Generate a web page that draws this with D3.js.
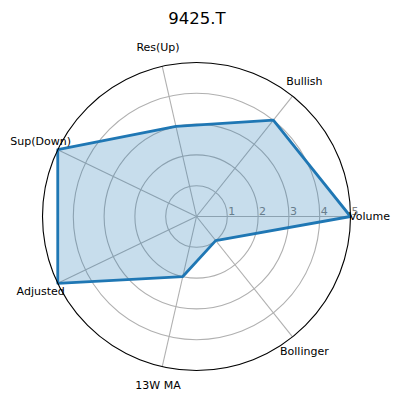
<!DOCTYPE html>
<html>
<head>
<meta charset="utf-8">
<script src="https://cdn.jsdelivr.net/npm/d3@7"></script>
<style>
  body { margin: 0; background: #fff; }
  text { font-family: "DejaVu Sans", sans-serif; }
</style>
</head>
<body>
<div id="chart"></div>
<script>
// radar chart for one ticker
const title = "9425.T";
const categories = ["Volume", "Bullish", "Res(Up)", "Sup(Down)", "Adjusted", "13W MA", "Bollinger"];
const values = [5, 4, 3, 5, 5, 2, 1];
const radialTicks = [1, 2, 3, 4, 5];

const width = 401, height = 401;
const cx = 196.5, cy = 216.5, R = 154;

const svg = d3.select("#chart").append("svg")
  .attr("width", width)
  .attr("height", height);

const g = svg.append("g").attr("transform", `translate(${cx},${cy})`);

// scales: angle goes counter-clockwise from east, like matplotlib polar
const angle = d3.scaleLinear()
  .domain([0, categories.length])
  .range([0, 2 * Math.PI]);
const r = d3.scaleLinear().domain([0, 5]).range([0, R]);

const px = (i, v) => r(v) * Math.cos(angle(i));
const py = (i, v) => -r(v) * Math.sin(angle(i));

// grid circles
g.selectAll(".ring")
  .data(radialTicks.slice(0, -1))
  .enter().append("circle")
  .attr("r", d => r(d))
  .attr("fill", "none")
  .attr("stroke", "#b0b0b0")
  .attr("stroke-width", 1.1);

// spokes
g.selectAll(".spoke")
  .data(categories)
  .enter().append("line")
  .attr("x1", 0).attr("y1", 0)
  .attr("x2", (d, i) => px(i, 5))
  .attr("y2", (d, i) => py(i, 5))
  .attr("stroke", "#b0b0b0")
  .attr("stroke-width", 1.1);

// radial tick labels
g.selectAll(".rtick")
  .data(radialTicks)
  .enter().append("text")
  .attr("x", d => r(d) + 1)
  .attr("y", -2)
  .attr("fill", "#808080")
  .attr("font-size", 11)
  .text(d => d);

// data polygon
const line = d3.line()
  .x(d => px(d.i, d.v))
  .y(d => py(d.i, d.v))
  .curve(d3.curveLinearClosed);
const pts = values.map((v, i) => ({ i, v }));

g.append("path")
  .datum(pts)
  .attr("d", line)
  .attr("fill", "#1f77b4")
  .attr("fill-opacity", 0.25)
  .attr("stroke", "#1f77b4")
  .attr("stroke-width", 2.8)
  .attr("stroke-linejoin", "round");

// outer spine
g.append("circle")
  .attr("r", R)
  .attr("fill", "none")
  .attr("stroke", "#000")
  .attr("stroke-width", 1.1);

// category labels
g.selectAll(".cat")
  .data(categories)
  .enter().append("text")
  .attr("x", (d, i) => (R + 19) * Math.cos(angle(i)))
  .attr("y", (d, i) => -(R + 19) * Math.sin(angle(i)))
  .attr("text-anchor", "middle")
  .attr("dominant-baseline", "central")
  .attr("font-size", 11)
  .attr("fill", "#000")
  .text(d => d);

// title
svg.append("text")
  .attr("x", cx + 0.5)
  .attr("y", 24)
  .attr("text-anchor", "middle")
  .attr("font-size", 16.5)
  .text(title);
</script>
</body>
</html>
